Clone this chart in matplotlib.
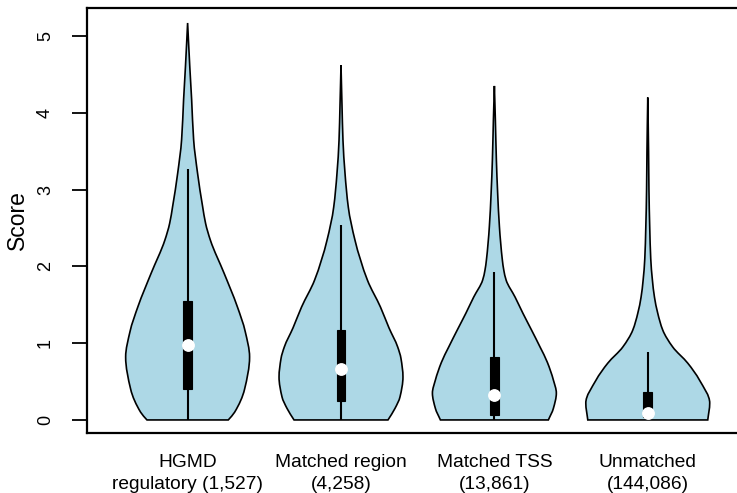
import numpy as np
import matplotlib
matplotlib.use("Agg")
import matplotlib.pyplot as plt
from matplotlib.path import Path
from matplotlib.patches import PathPatch

plt.rcParams["font.family"] = ["Liberation Sans", "DejaVu Sans"]

# Group labels (with counts)
categories = ["HGMD\nregulatory (1,527)", "Matched region\n(4,258)",
              "Matched TSS\n(13,861)", "Unmatched\n(144,086)"]

# Density outlines: score levels and half-widths relative to the widest point
hgmd_levels = [0, 0.1, 0.4, 0.82, 1.15, 1.48, 1.91, 2.34, 2.56, 2.78, 3.21, 3.65, 4.17, 4.6, 5.17]
hgmd_widths = [0.656, 0.758, 0.919, 1.0, 0.93, 0.80, 0.589, 0.368, 0.29, 0.242, 0.161, 0.097, 0.065, 0.035, 0.0]

region_levels = [0, 0.15, 0.3, 0.56, 0.8, 0.95, 1.2, 1.47, 1.82, 2.34, 2.77, 3.21, 3.64, 4.1, 4.62]
region_widths = [0.758, 0.871, 0.952, 1.0, 0.968, 0.915, 0.774, 0.637, 0.427, 0.226, 0.118, 0.065, 0.032, 0.016, 0.0]

tss_levels = [0, 0.15, 0.35, 0.52, 0.75, 0.95, 1.17, 1.39, 1.6, 1.82, 1.95, 2.08, 2.52, 2.95, 3.39, 3.9, 4.35]
tss_widths = [0.871, 0.952, 1.0, 0.952, 0.855, 0.737, 0.6, 0.46, 0.334, 0.19, 0.152, 0.129, 0.081, 0.053, 0.032, 0.016, 0.0]

unmatched_levels = [0, 0.22, 0.52, 0.74, 0.95, 1.17, 1.39, 1.6, 1.82, 2.1, 2.5, 3.0, 3.5, 4.2]
unmatched_widths = [0.968, 1.0, 0.834, 0.645, 0.403, 0.242, 0.161, 0.108, 0.075, 0.048, 0.032, 0.019, 0.013, 0.0]

# Box-plot summaries
q1 = [0.40, 0.25, 0.07, 0.04]
medians = [0.97, 0.66, 0.32, 0.09]
q3 = [1.55, 1.17, 0.82, 0.37]
whisker_lo = [0.0, 0.0, 0.0, 0.0]
whisker_hi = [3.27, 2.54, 1.93, 0.89]

yticks = [0, 1, 2, 3, 4, 5]

levels_all = [hgmd_levels, region_levels, tss_levels, unmatched_levels]
widths_all = [hgmd_widths, region_widths, tss_widths, unmatched_widths]

HALF_MAX = 0.404   # widest half-width, in x units
BOX_HALF = 0.029
FILL = "#add8e6"


def hermite_slopes(y, w):
    """Shape-preserving (Fritsch-Carlson) slopes dw/dy at each knot."""
    h = np.diff(y)
    delta = np.diff(w) / h
    d = np.zeros_like(w)
    for i in range(1, len(w) - 1):
        if delta[i - 1] * delta[i] <= 0:
            d[i] = 0.0
        else:
            w1 = 2 * h[i] + h[i - 1]
            w2 = h[i] + 2 * h[i - 1]
            d[i] = (w1 + w2) / (w1 / delta[i - 1] + w2 / delta[i])
    d[0] = delta[0]
    d[-1] = delta[-1]
    return d


def outline_segments(y, w, d, xc, sign):
    """Bezier control points for one side of the outline, bottom to top."""
    segs = []
    for i in range(len(y) - 1):
        h = y[i + 1] - y[i]
        p0 = (xc + sign * w[i], y[i])
        c1 = (xc + sign * (w[i] + d[i] * h / 3), y[i] + h / 3)
        c2 = (xc + sign * (w[i + 1] - d[i + 1] * h / 3), y[i + 1] - h / 3)
        p1 = (xc + sign * w[i + 1], y[i + 1])
        segs.append((p0, c1, c2, p1))
    return segs


fig = plt.figure(figsize=(7.37, 4.93), dpi=100)
ax = fig.add_axes([87 / 737, 60 / 493, 662 / 737, 425 / 493])

for i, (lv, wd) in enumerate(zip(levels_all, widths_all)):
    xc = i + 1
    y = np.asarray(lv, float)
    w = np.asarray(wd, float) * HALF_MAX
    d = hermite_slopes(y, w)
    right = outline_segments(y, w, d, xc, +1)
    left = outline_segments(y, w, d, xc, -1)

    verts = [(xc - w[0], y[0]), (xc + w[0], y[0])]
    codes = [Path.MOVETO, Path.LINETO]
    for p0, c1, c2, p1 in right:
        verts += [c1, c2, p1]
        codes += [Path.CURVE4] * 3
    for p0, c1, c2, p1 in reversed(left):
        verts += [c2, c1, p0]
        codes += [Path.CURVE4] * 3
    verts.append((xc - w[0], y[0]))
    codes.append(Path.CLOSEPOLY)
    ax.add_patch(PathPatch(Path(verts, codes), facecolor=FILL, edgecolor="black",
                           lw=1.2, zorder=2))

    ax.plot([xc, xc], [whisker_lo[i], whisker_hi[i]], color="black", lw=1.5,
            solid_capstyle="butt", zorder=3)
    ax.add_patch(plt.Rectangle((xc - BOX_HALF, q1[i]), 2 * BOX_HALF, q3[i] - q1[i],
                               facecolor="black", edgecolor="black", lw=0.8, zorder=4))
    ax.plot([xc], [medians[i]], marker="o", markersize=8.2, markerfacecolor="white",
            markeredgecolor="white", zorder=5)

ax.set_xlim(0.344, 4.66)
ax.set_ylim(-0.17, 5.365)

ax.set_yticks(yticks)
ax.set_yticklabels([str(t) for t in yticks], rotation=90, va="center", fontsize=13)
ax.tick_params(axis="y", length=10.8, width=1.3, pad=13)

ax.set_xticks([1, 2, 3, 4])
ax.set_xticklabels(categories, fontsize=13.8, linespacing=1.4)
ax.tick_params(axis="x", length=0, pad=15)

ax.set_ylabel("Score", fontsize=16.5, labelpad=5.5)

for sp in ax.spines.values():
    sp.set_linewidth(1.6)

fig.savefig("out.png", dpi=100)
